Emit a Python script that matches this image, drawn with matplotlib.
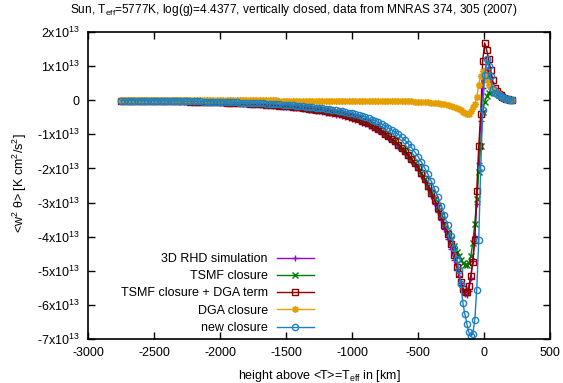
import matplotlib
matplotlib.use("Agg")
import matplotlib.pyplot as plt
from matplotlib.ticker import FuncFormatter, MultipleLocator

plt.rcParams['font.family'] = ['Liberation Sans', 'DejaVu Sans']
plt.rcParams['mathtext.fontset'] = 'custom'
plt.rcParams['mathtext.rm'] = 'Liberation Sans'
plt.rcParams['mathtext.it'] = 'Liberation Sans:italic'
plt.rcParams['font.size'] = 9

# height above <T>=Teff [km]
height = [
    -2750, -2725, -2700, -2675, -2650, -2625, -2600, -2575, -2550, -2525,
    -2500, -2475, -2450, -2425, -2400, -2375, -2350, -2325, -2300, -2275,
    -2250, -2225, -2200, -2175, -2150, -2125, -2100, -2075, -2050, -2025,
    -2000, -1975, -1950, -1925, -1900, -1875, -1850, -1825, -1800, -1775,
    -1750, -1725, -1700, -1675, -1650, -1625, -1600, -1575, -1550, -1525,
    -1500, -1475, -1450, -1425, -1400, -1375, -1350, -1325, -1300, -1275,
    -1250, -1225, -1200, -1175, -1150, -1125, -1100, -1075, -1050, -1025,
    -1000, -975, -950, -925, -900, -875, -850, -825, -800, -775,
    -750, -725, -700, -675, -650, -625, -600, -575, -550, -525,
    -500, -475, -450, -425, -400, -375, -350, -325, -300, -275,
    -250, -225,
    -205, -190, -175, -160, -145, -130, -115, -100, -85, -70,
    -55, -40, -25, -10, 5, 20, 35, 50, 65, 80,
    95, 110, 125, 140, 155, 170, 185, 200, 215,
]

# <w^2 theta> in units of 1e13 K cm^2/s^2
rhd_simulation = [
    -0.015, -0.016, -0.017, -0.018, -0.018, -0.019, -0.020, -0.022, -0.023, -0.024,
    -0.025, -0.026, -0.028, -0.029, -0.031, -0.032, -0.034, -0.036, -0.038, -0.040,
    -0.042, -0.044, -0.046, -0.049, -0.051, -0.054, -0.057, -0.060, -0.063, -0.066,
    -0.070, -0.074, -0.077, -0.081, -0.086, -0.090, -0.095, -0.100, -0.105, -0.111,
    -0.117, -0.123, -0.129, -0.136, -0.143, -0.151, -0.159, -0.167, -0.176, -0.185,
    -0.195, -0.205, -0.216, -0.227, -0.239, -0.252, -0.265, -0.279, -0.293, -0.309,
    -0.325, -0.342, -0.360, -0.379, -0.399, -0.420, -0.442, -0.465, -0.490, -0.516,
    -0.55, -0.58, -0.62, -0.66, -0.70, -0.75, -0.80, -0.85, -0.91, -0.98,
    -1.05, -1.12, -1.20, -1.28, -1.37, -1.47, -1.57, -1.68, -1.79, -1.91,
    -2.04, -2.22, -2.40, -2.60, -2.82, -3.04, -3.27, -3.52, -3.78, -4.06,
    -4.36, -4.68,
    -4.95, -5.15, -5.37, -5.55, -5.68, -5.72, -5.58, -5.22, -4.70, -3.98,
    -3.05, -1.85, -0.60, 0.35, 0.88, 0.88, 0.70, 0.52, 0.38, 0.28,
    0.21, 0.15, 0.11, 0.08, 0.06, 0.04, 0.03, 0.02, 0.01,
]

tsmf_closure = [
    -0.013, -0.014, -0.015, -0.015, -0.016, -0.017, -0.018, -0.019, -0.020, -0.021,
    -0.022, -0.023, -0.024, -0.026, -0.027, -0.029, -0.030, -0.032, -0.033, -0.035,
    -0.037, -0.039, -0.041, -0.043, -0.045, -0.048, -0.050, -0.053, -0.056, -0.058,
    -0.061, -0.065, -0.068, -0.072, -0.075, -0.079, -0.084, -0.088, -0.093, -0.098,
    -0.103, -0.108, -0.114, -0.120, -0.126, -0.133, -0.140, -0.147, -0.155, -0.163,
    -0.171, -0.180, -0.190, -0.200, -0.210, -0.221, -0.233, -0.245, -0.258, -0.272,
    -0.286, -0.301, -0.317, -0.334, -0.351, -0.370, -0.389, -0.409, -0.431, -0.454,
    -0.49, -0.52, -0.56, -0.60, -0.64, -0.68, -0.73, -0.78, -0.84, -0.91,
    -0.98, -1.05, -1.13, -1.21, -1.30, -1.40, -1.50, -1.61, -1.72, -1.84,
    -1.97, -2.14, -2.31, -2.50, -2.70, -2.90, -3.12, -3.36, -3.62, -3.86,
    -4.08, -4.28,
    -4.45, -4.58, -4.69, -4.78, -4.83, -4.84, -4.77, -4.58, -4.18, -3.62,
    -2.90, -2.10, -1.35, -0.35, -0.05, 0.12, 0.22, 0.28, 0.27, 0.24,
    0.20, 0.16, 0.12, 0.09, 0.07, 0.05, 0.03, 0.02, 0.01,
]

tsmf_dga = [
    -0.013, -0.014, -0.015, -0.015, -0.016, -0.017, -0.018, -0.019, -0.020, -0.021,
    -0.022, -0.023, -0.024, -0.026, -0.027, -0.029, -0.030, -0.032, -0.033, -0.035,
    -0.037, -0.039, -0.041, -0.043, -0.045, -0.048, -0.050, -0.053, -0.056, -0.058,
    -0.061, -0.065, -0.068, -0.072, -0.075, -0.079, -0.084, -0.088, -0.093, -0.098,
    -0.103, -0.108, -0.114, -0.120, -0.126, -0.133, -0.140, -0.147, -0.155, -0.163,
    -0.171, -0.180, -0.190, -0.200, -0.210, -0.221, -0.233, -0.245, -0.258, -0.272,
    -0.286, -0.301, -0.317, -0.334, -0.351, -0.370, -0.389, -0.409, -0.431, -0.454,
    -0.49, -0.52, -0.56, -0.60, -0.64, -0.68, -0.73, -0.78, -0.84, -0.91,
    -0.98, -1.05, -1.13, -1.21, -1.30, -1.40, -1.50, -1.61, -1.72, -1.84,
    -1.97, -2.14, -2.31, -2.50, -2.71, -2.92, -3.15, -3.40, -3.65, -3.93,
    -4.22, -4.53,
    -4.88, -5.10, -5.32, -5.52, -5.63, -5.63, -5.45, -5.15, -4.75, -4.10,
    -2.65, -1.35, -0.40, 1.15, 1.68, 1.48, 1.20, 0.90, 0.58, 0.37,
    0.26, 0.19, 0.14, 0.10, 0.07, 0.05, 0.03, 0.02, 0.01,
]

dga_closure = [
    0.000, 0.000, 0.000, 0.000, 0.000, 0.000, -0.001, -0.001, -0.001, -0.001,
    -0.001, -0.001, -0.002, -0.002, -0.002, -0.002, -0.002, -0.002, -0.003, -0.003,
    -0.003, -0.003, -0.003, -0.003, -0.004, -0.004, -0.004, -0.004, -0.004, -0.005,
    -0.005, -0.005, -0.005, -0.005, -0.006, -0.006, -0.006, -0.006, -0.006, -0.007,
    -0.007, -0.007, -0.007, -0.008, -0.008, -0.008, -0.008, -0.008, -0.009, -0.009,
    -0.009, -0.009, -0.010, -0.010, -0.010, -0.010, -0.010, -0.011, -0.011, -0.011,
    -0.011, -0.011, -0.011, -0.011, -0.012, -0.012, -0.012, -0.012, -0.012, -0.012,
    -0.012, -0.013, -0.014, -0.015, -0.016, -0.017, -0.018, -0.019, -0.020, -0.021,
    -0.022, -0.023, -0.025, -0.026, -0.028, -0.030, -0.032, -0.034, -0.036, -0.039,
    -0.042, -0.046, -0.052, -0.060, -0.070, -0.080, -0.092, -0.105, -0.120, -0.140,
    -0.165, -0.195,
    -0.24, -0.27, -0.30, -0.34, -0.38, -0.41, -0.40, -0.33, -0.21, -0.11,
    0.08, 0.45, 0.72, 0.87, 0.78, 0.58, 0.45, 0.38, 0.33, 0.28,
    0.22, 0.17, 0.12, 0.09, 0.07, 0.05, 0.03, 0.02, 0.01,
]

new_closure = [
    -0.011, -0.011, -0.012, -0.012, -0.013, -0.014, -0.014, -0.015, -0.016, -0.017,
    -0.018, -0.018, -0.019, -0.020, -0.022, -0.023, -0.024, -0.025, -0.026, -0.028,
    -0.029, -0.031, -0.032, -0.034, -0.036, -0.038, -0.040, -0.042, -0.044, -0.046,
    -0.049, -0.051, -0.054, -0.057, -0.060, -0.063, -0.067, -0.070, -0.074, -0.078,
    -0.082, -0.086, -0.090, -0.095, -0.100, -0.105, -0.111, -0.117, -0.123, -0.130,
    -0.136, -0.143, -0.151, -0.159, -0.167, -0.176, -0.185, -0.195, -0.205, -0.216,
    -0.228, -0.239, -0.252, -0.265, -0.279, -0.294, -0.309, -0.326, -0.343, -0.361,
    -0.38, -0.41, -0.43, -0.46, -0.49, -0.53, -0.57, -0.61, -0.65, -0.70,
    -0.75, -0.81, -0.87, -0.93, -1.00, -1.08, -1.17, -1.27, -1.38, -1.51,
    -1.65, -1.81, -1.98, -2.17, -2.37, -2.59, -2.83, -3.09, -3.37, -3.67,
    -3.98, -4.32,
    -4.65, -4.98, -5.40, -5.95, -6.27, -6.55, -6.80, -6.92, -6.85, -6.45,
    -5.55, -4.10, -2.00, -0.30, 0.75, 1.20, 1.00, 0.72, 0.33, 0.22,
    0.18, 0.14, 0.11, 0.09, 0.07, 0.05, 0.03, 0.02, 0.0,
]

series = [
    ("3D RHD simulation", rhd_simulation, "#9400D3", "+", 5.0),
    ("TSMF closure", tsmf_closure, "#007a00", "x", 4.2),
    ("TSMF closure + DGA term", tsmf_dga, "#8B0000", "s", 4.3),
    ("DGA closure", dga_closure, "#E69F00", (8, 2, 0), 5.0),
    ("new closure", new_closure, "#1f7fc0", "o", 4.5),
]

fig = plt.figure(figsize=(5.63, 3.83), dpi=100)
ax = fig.add_axes([88 / 563, 1 - 339 / 383, (550 - 88) / 563, (339 - 32) / 383])

for label, vals, color, marker, ms in series:
    ax.plot(height, vals, color=color, lw=1.0, marker=marker, ms=ms,
            mew=1.0, mfc="none", mec=color, label=label)

ax.set_xlim(-3000, 500)
ax.set_ylim(-7, 2)
ax.xaxis.set_major_locator(MultipleLocator(500))
ax.yaxis.set_major_locator(MultipleLocator(1))


def sci_label(v, pos):
    n = int(round(v))
    if n == 0:
        return "0"
    return f"{n}x10$^{{13}}$"


ax.yaxis.set_major_formatter(FuncFormatter(sci_label))
ax.xaxis.set_major_formatter(FuncFormatter(lambda v, p: f"{int(round(v))}"))

ax.tick_params(direction="in", length=5, width=1, top=True, right=True,
               labelsize=9, color="black")
ax.tick_params(axis="x", pad=6)
ax.tick_params(axis="y", pad=6)
for sp in ax.spines.values():
    sp.set_linewidth(1.2)

ax.set_xlabel("height above <T>=T$_{\\mathrm{eff}}$ in [km]", fontsize=9, labelpad=6)
fig.text(20 / 563, 1 - 183 / 383, "<w$^2$ θ> [K cm$^2$/s$^2$]", rotation=90,
         ha="center", va="center", fontsize=9)
fig.text(294 / 563, 1 - 10 / 383,
         "Sun, T$_{\\mathrm{eff}}$=5777K, log(g)=4.4377, vertically closed, data from MNRAS 374, 305 (2007)",
         ha="center", va="center", fontsize=8.6)

leg = ax.legend(loc="upper right", bbox_to_anchor=(314 / 563, 1 - 253 / 383),
                bbox_transform=fig.transFigure, frameon=False, markerfirst=False,
                handlelength=3.0, handletextpad=0.7, labelspacing=0.42,
                borderpad=0, borderaxespad=0, fontsize=9)

fig.savefig("out.png", dpi=100)
